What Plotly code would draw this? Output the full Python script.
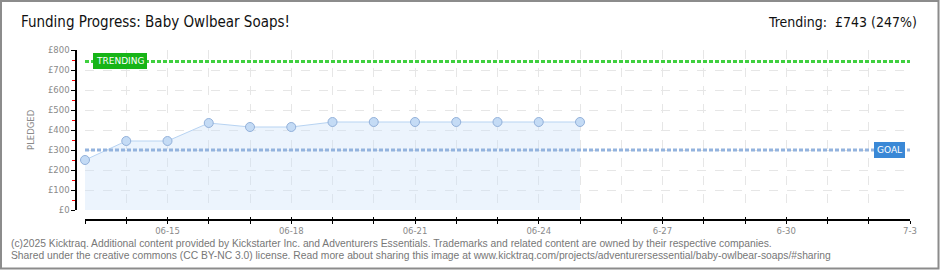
import plotly.graph_objects as go

# ---- data ----
dates = ["2025-06-13", "2025-06-14", "2025-06-15", "2025-06-16", "2025-06-17",
         "2025-06-18", "2025-06-19", "2025-06-20", "2025-06-21", "2025-06-22",
         "2025-06-23", "2025-06-24", "2025-06-25"]
pledged = [250, 345, 345, 435, 415, 415, 440, 440, 440, 440, 440, 440, 440]
goal = 300
trending = 743
trending_pct = 247
tick_days = ["2025-06-13", "2025-06-14", "2025-06-15", "2025-06-16", "2025-06-17",
             "2025-06-18", "2025-06-19", "2025-06-20", "2025-06-21", "2025-06-22",
             "2025-06-23", "2025-06-24", "2025-06-25", "2025-06-26", "2025-06-27",
             "2025-06-28", "2025-06-29", "2025-06-30", "2025-07-01", "2025-07-02",
             "2025-07-03"]
tick_text = ["", "", "06-15", "", "", "06-18", "", "", "06-21", "", "", "06-24",
             "", "", "6-27", "", "", "6-30", "", "", "7-3"]
y_max = 800

title_text = "Funding Progress: Baby Owlbear Soaps!"
trend_text = f"Trending:  £{trending} ({trending_pct}%)"
footer1 = ("(c)2025 Kicktraq. Additional content provided by Kickstarter Inc. and Adventurers Essentials. "
           "Trademarks and related content are owned by their respective companies.")
footer2 = ("Shared under the creative commons (CC BY-NC 3.0) license. Read more about sharing this image at "
           "www.kicktraq.com/projects/adventurersessential/baby-owlbear-soaps/#sharing")

# ---- layout geometry (pixels) ----
W, H = 940, 270
L, R, T, B = 76, 30, 50, 50
PW, PH = W - L - R, H - T - B


def px(x):
    return (x - L) / PW


def py(y):
    return (H - B - y) / PH


GRAY = "#8a8a8a"
TICKFONT = dict(family="DejaVu Sans", size=8.5, color=GRAY)

fig = go.Figure()

fig.add_trace(go.Scatter(
    x=dates, y=pledged, mode="lines+markers",
    line=dict(color="#b7d3f2", width=1),
    fill="tozeroy", fillcolor="rgba(205,226,250,0.38)",
    marker=dict(size=9, color="#c4dbf5", line=dict(color="#93b1da", width=1)),
    cliponaxis=False, hoverinfo="x+y", showlegend=False,
))
# overlay axis trace for inside (upward) tick marks
fig.add_trace(go.Scatter(x=[dates[0]], y=[None], xaxis="x2", showlegend=False,
                         hoverinfo="skip"))

x_dom0 = (85 - L) / PW
y_dom0 = (220 - 210) / PH

fig.update_layout(
    width=W, height=H,
    margin=dict(l=L, r=R, t=T, b=B, pad=0),
    paper_bgcolor="white", plot_bgcolor="white",
    xaxis=dict(
        type="date", range=[tick_days[0], tick_days[-1]],
        domain=[x_dom0, 1], anchor="free", position=0,
        tickvals=tick_days, ticktext=tick_text,
        showline=True, linecolor="black", linewidth=1.5,
        ticks="outside", ticklen=3, tickcolor="black", tickwidth=1,
        showgrid=True, gridcolor="#e6e6e6", griddash="dash", gridwidth=1,
        tickfont=TICKFONT, zeroline=False, fixedrange=True,
    ),
    xaxis2=dict(
        type="date", range=[tick_days[0], tick_days[-1]],
        domain=[x_dom0, 1], anchor="free", position=0, overlaying="x",
        tickvals=tick_days, ticktext=[""] * len(tick_days),
        showline=False, ticks="inside", ticklen=3, tickcolor="black",
        showgrid=False, zeroline=False, fixedrange=True,
    ),
    yaxis=dict(
        range=[0, y_max], domain=[y_dom0, 1], anchor="free", position=0,
        dtick=100, tickprefix="£",
        showline=True, linecolor="black", linewidth=1.5,
        ticks="outside", ticklen=4, tickcolor="black", tickwidth=1,
        minor=dict(dtick=50, ticks="outside", ticklen=3, tickcolor="red",
                   tickwidth=1, showgrid=False),
        showgrid=True, gridcolor="#e6e6e6", griddash="dash", gridwidth=1,
        tickfont=TICKFONT, zeroline=False, fixedrange=True,
    ),
    shapes=[
        dict(type="line", xref="x domain", yref="y", x0=0, x1=1, y0=trending, y1=trending,
             line=dict(color="#3fd03f", width=3, dash="4px,2px"), layer="above"),
        dict(type="line", xref="x domain", yref="y", x0=0, x1=1, y0=goal, y1=goal,
             line=dict(color="#93b3de", width=3, dash="4px,2px"), layer="above"),
        dict(type="rect", xref="paper", yref="paper",
             x0=px(1), x1=px(938.5), y0=py(1), y1=py(268.5),
             line=dict(color="#8c8c8c", width=2), fillcolor="rgba(0,0,0,0)"),
    ],
    annotations=[
        dict(text=title_text, xref="paper", yref="paper", x=px(19), y=py(22),
             xanchor="left", yanchor="middle", showarrow=False,
             font=dict(family="DejaVu Sans Condensed", size=15, color="#111")),
        dict(text=trend_text, xref="paper", yref="paper", x=px(919), y=py(22),
             xanchor="right", yanchor="middle", showarrow=False,
             font=dict(family="DejaVu Sans Condensed", size=14, color="#111")),
        dict(text=footer1, xref="paper", yref="paper", x=px(9), y=py(243),
             xanchor="left", yanchor="middle", showarrow=False,
             font=dict(family="Liberation Sans", size=10.3, color="#777")),
        dict(text=footer2, xref="paper", yref="paper", x=px(9), y=py(256),
             xanchor="left", yanchor="middle", showarrow=False,
             font=dict(family="Liberation Sans", size=10.3, color="#777")),
        dict(text="PLEDGED", xref="paper", yref="paper", x=px(31), y=py(130),
             xanchor="center", yanchor="middle", showarrow=False, textangle=-90,
             font=dict(family="DejaVu Sans", size=8.5, color=GRAY)),
        dict(text="TRENDING", xref="paper", yref="y", x=px(93), y=trending,
             xanchor="left", yanchor="middle", showarrow=False,
             bgcolor="#17b417", bordercolor="#17b417", borderpad=2,
             font=dict(family="DejaVu Sans", size=9, color="white")),
        dict(text="GOAL", xref="paper", yref="y", x=px(905), y=goal,
             xanchor="right", yanchor="middle", showarrow=False,
             bgcolor="#3a88d6", bordercolor="#3a88d6", borderpad=2,
             font=dict(family="DejaVu Sans", size=9, color="white")),
    ],
)

fig.write_html("out.html")
